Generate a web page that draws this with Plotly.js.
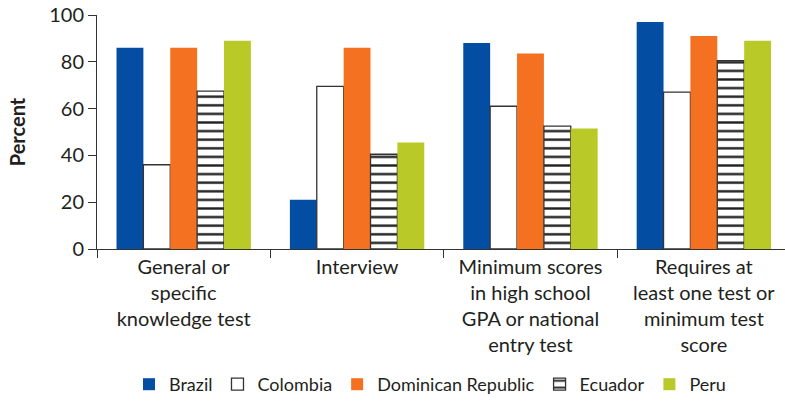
<!DOCTYPE html>
<html>
<head>
<meta charset="utf-8">
<script src="https://cdn.plot.ly/plotly-3.0.1.min.js"></script>
<style>
html,body{margin:0;padding:0;background:#fff;}
#chart{width:785px;height:403px;}
</style>
</head>
<body>
<div id="chart"></div>
<script>
var categories = [
  "General or<br>specific<br>knowledge test",
  "Interview",
  "Minimum scores<br>in high school<br>GPA or national<br>entry test",
  "Requires at<br>least one test or<br>minimum test<br>score"
];
var brazil    = [86, 21, 88, 97];
var colombia  = [36, 69.5, 61, 67];
var dominican = [86, 86, 83.5, 91];
var ecuador   = [67.5, 40.5, 52.5, 80.5];
var peru      = [89, 45.5, 51.5, 89];
var yTicks = [0, 20, 40, 60, 80, 100];

var FONT = "Lato, 'Open Sans', sans-serif";
var TXT = "#231f20";

var traces = [
  {name: "Brazil", x: categories, y: brazil, type: "bar",
   marker: {color: "#034ea2", line: {width: 0}}},
  {name: "Colombia", x: categories, y: colombia, type: "bar",
   marker: {color: "#ffffff", line: {color: "#333333", width: 1.3}}},
  {name: "Dominican Republic", x: categories, y: dominican, type: "bar",
   marker: {color: "#f37121", line: {width: 0}}},
  {name: "Ecuador", x: categories, y: ecuador, type: "bar",
   marker: {color: "#ffffff", line: {color: "#333333", width: 1.3},
            pattern: {shape: "-", fgcolor: "#222222", bgcolor: "#ffffff", size: 8.6, solidity: 0.28}}},
  {name: "Peru", x: categories, y: peru, type: "bar",
   marker: {color: "#b8c928", line: {width: 0}}}
];

var layout = {
  width: 785, height: 403,
  margin: {l: 97, r: 0, t: 15, b: 153},
  paper_bgcolor: "#ffffff", plot_bgcolor: "#ffffff",
  font: {family: FONT, color: TXT, size: 20},
  barmode: "group",
  bargap: 0.225,
  bargroupgap: 0,
  showlegend: true,
  hovermode: false,
  legend: {orientation: "h", x: 0.484, xanchor: "center", y: -0.58, yanchor: "middle",
           font: {family: FONT, size: 18, color: TXT}, traceorder: "normal"},
  xaxis: {
    type: "category",
    range: [-0.5, 3.468],
    showline: true, linecolor: "#333333", linewidth: 1,
    ticks: "outside", ticklen: 8, tickcolor: "#333333", tickwidth: 1,
    tickson: "boundaries",
    showgrid: false, zeroline: false,
    tickfont: {family: FONT, size: 20, color: TXT}
  },
  yaxis: {
    range: [0, 100],
    tickvals: yTicks,
    ticktext: yTicks.map(String),
    showline: true, linecolor: "#333333", linewidth: 1,
    ticks: "outside", ticklen: 8, tickcolor: "#333333", tickwidth: 1,
    showgrid: false, zeroline: false,
    tickfont: {family: FONT, size: 20, color: TXT},
    title: {text: "<b>Percent</b>", font: {family: FONT, size: 20, color: TXT}, standoff: 18}
  }
};

Plotly.newPlot("chart", traces, layout, {displayModeBar: false, staticPlot: true});
</script>
</body>
</html>
